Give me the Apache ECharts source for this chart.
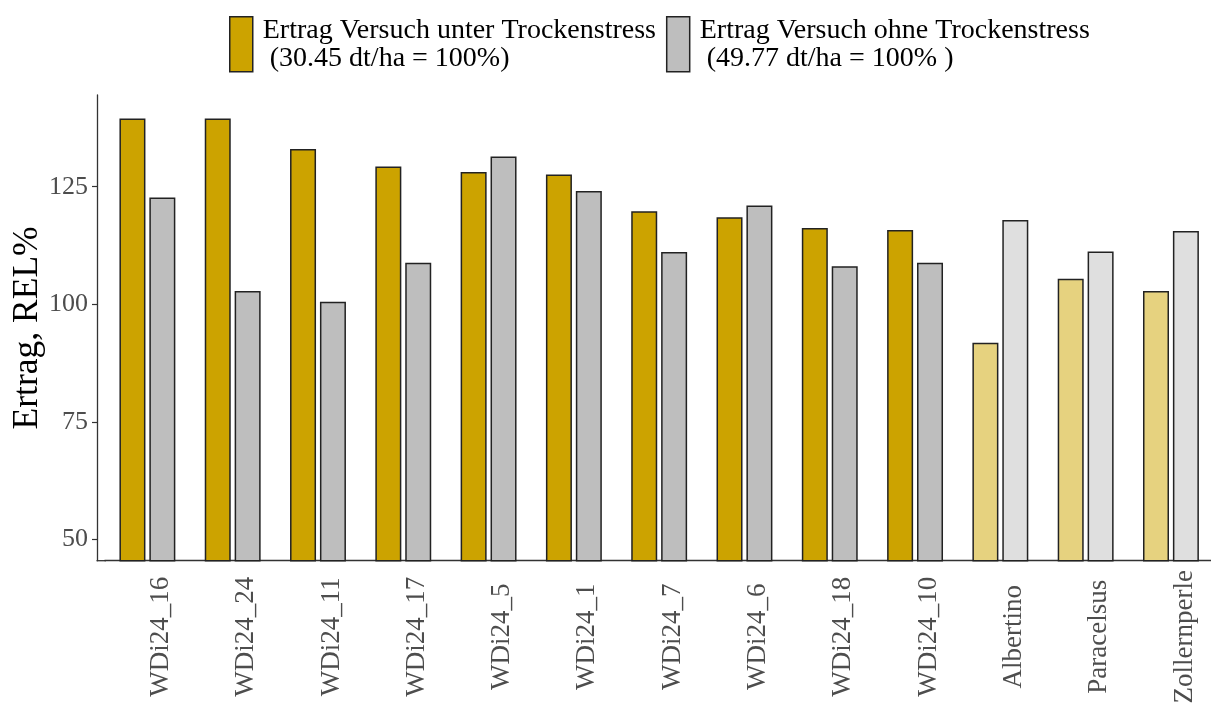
<!DOCTYPE html>
<html>
<head>
<meta charset="utf-8">
<script src="https://cdn.jsdelivr.net/npm/echarts@6/dist/echarts.min.js"></script>
<style>
  html, body { margin: 0; padding: 0; background: #fff; }
  #chart { width: 1211px; height: 704px; }
</style>
</head>
<body>
<div id="chart"></div>
<script>
  // Sorten / Zuchtstaemme
  var categories = ['WDi24_16', 'WDi24_24', 'WDi24_11', 'WDi24_17', 'WDi24_5', 'WDi24_1',
    'WDi24_7', 'WDi24_6', 'WDi24_18', 'WDi24_10', 'Albertino', 'Paracelsus', 'Zollernperle'];
  // Vergleichssorten (heller dargestellt)
  var checkVarieties = ['Albertino', 'Paracelsus', 'Zollernperle'];

  // Ertrag relativ, %
  var stressValues = [139.5, 139.5, 133.0, 129.3, 128.1, 127.6, 119.8, 118.5, 116.2, 115.8, 91.8, 105.4, 102.8];
  var noStressValues = [122.7, 102.8, 100.5, 108.8, 131.4, 124.1, 111.1, 121.0, 108.1, 108.8, 117.9, 111.2, 115.6];

  var yTicks = [50, 75, 100, 125];

  var seriesNames = ['Ertrag Versuch unter Trockenstress\n (30.45 dt/ha = 100%)',
    'Ertrag Versuch ohne Trockenstress\n (49.77 dt/ha = 100% )'];

  var colStress = '#CCA300', colStressLight = '#E6D27F';
  var colNoStress = '#BEBEBE', colNoStressLight = '#DFDFDF';

  function toItems(values, col, colLight) {
    return values.map(function (v, i) {
      var light = checkVarieties.indexOf(categories[i]) >= 0;
      return { value: v, itemStyle: { color: light ? colLight : col } };
    });
  }

  var chart = echarts.init(document.getElementById('chart'));
  chart.setOption({
    animation: false,
    textStyle: { fontFamily: 'Liberation Serif' },
    legend: {
      left: 229,
      top: 16,
      padding: 0,
      itemWidth: 23,
      itemHeight: 55,
      itemGap: 10,
      icon: 'rect',
      textStyle: {
        fontSize: 28,
        lineHeight: 28,
        color: '#000',
        fontFamily: 'Liberation Serif',
        padding: [0, 0, 0, 5]
      },
      data: [
        { name: seriesNames[0], itemStyle: { color: colStress, borderColor: '#222', borderWidth: 1.5 } },
        { name: seriesNames[1], itemStyle: { color: colNoStress, borderColor: '#222', borderWidth: 1.5 } }
      ]
    },
    grid: { left: 104.75, right: -2.6, top: 95, bottom: 143.3, containLabel: false, outerBoundsMode: 'none' },
    xAxis: {
      type: 'category',
      data: categories,
      axisLine: { lineStyle: { color: '#333', width: 1.3 } },
      axisTick: { alignWithLabel: true, length: 4, lineStyle: { color: '#333', width: 1.2 } },
      axisLabel: {
        rotate: 90,
        interval: 0,
        align: 'center',
        verticalAlign: 'top',
        margin: 76,
        fontSize: 27,
        color: '#4D4D4D',
        fontFamily: 'Liberation Serif'
      }
    },
    yAxis: {
      type: 'value',
      min: 45.45,
      max: 144.5,
      offset: 7.75,
      name: 'Ertrag, REL%',
      nameLocation: 'middle',
      nameGap: 51,
      nameMoveOverlap: false,
      nameTextStyle: { fontSize: 35.5, color: '#000', fontFamily: 'Liberation Serif' },
      splitLine: { show: false },
      axisLine: { show: true, lineStyle: { color: '#333', width: 1.3 } },
      axisTick: { show: true, length: 5, customValues: yTicks, lineStyle: { color: '#333', width: 1.2 } },
      axisLabel: { customValues: yTicks, margin: 9, fontSize: 26, color: '#4D4D4D', fontFamily: 'Liberation Serif' }
    },
    graphic: [{
      type: 'line',
      shape: { x1: 96.5, y1: 560.7, x2: 106, y2: 560.7 },
      style: { stroke: '#333', lineWidth: 1.3 }
    }],
    series: [
      {
        name: seriesNames[0],
        type: 'bar',
        barWidth: 26,
        barGap: '15%',
        itemStyle: { color: colStress, borderColor: '#222', borderWidth: 1.5 },
        data: toItems(stressValues, colStress, colStressLight)
      },
      {
        name: seriesNames[1],
        type: 'bar',
        barWidth: 26,
        barGap: '15%',
        itemStyle: { color: colNoStress, borderColor: '#222', borderWidth: 1.5 },
        data: toItems(noStressValues, colNoStress, colNoStressLight)
      }
    ]
  });
</script>
</body>
</html>
